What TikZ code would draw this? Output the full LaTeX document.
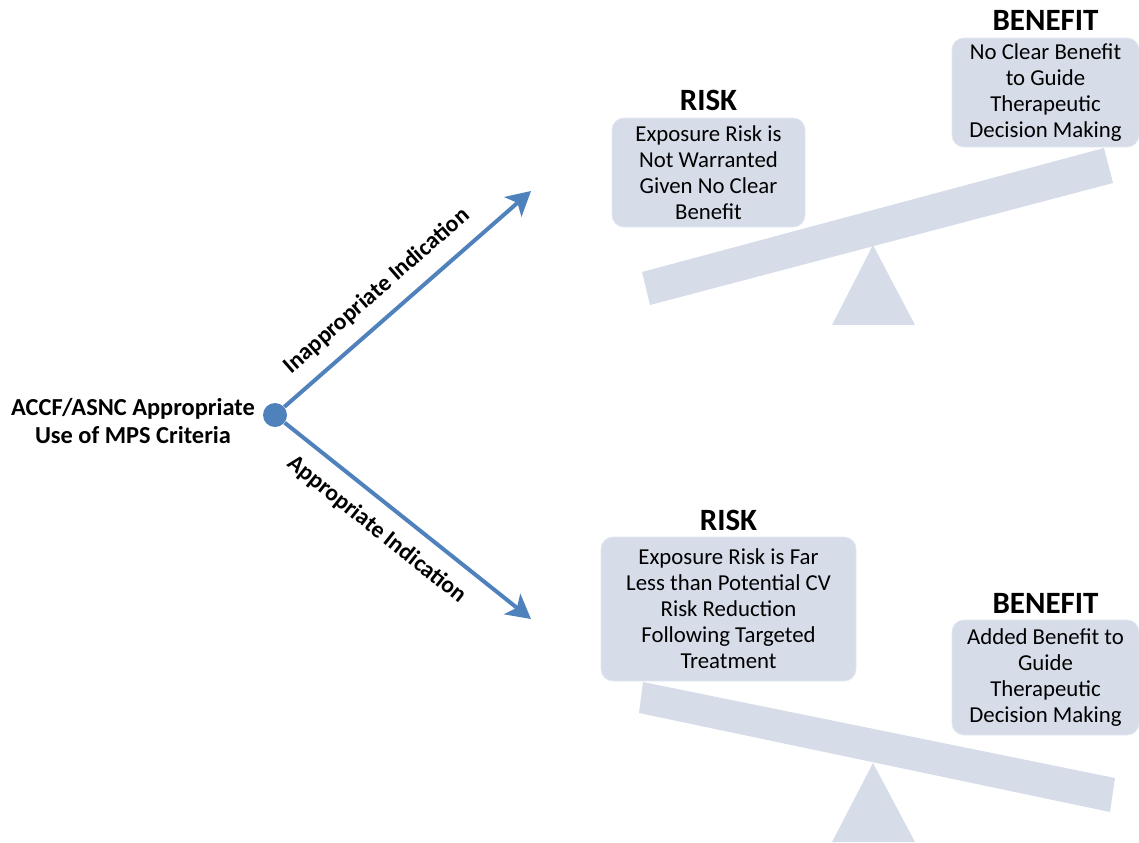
\documentclass[tikz,border=0pt]{standalone}
\usepackage{fontspec}
\setmainfont{Carlito}
\usetikzlibrary{positioning,arrows.meta}
\definecolor{arrowblue}{RGB}{79,129,189}
\definecolor{scalegray}{RGB}{214,221,233}
\tikzset{
  txtbox/.style={fill=scalegray, draw=scalegray!70!white, rounded corners=6pt, align=center, inner sep=0pt, font=\fontsize{11.4}{13}\selectfont},
  heading/.style={font=\bfseries\fontsize{15.5}{17}\selectfont, inner sep=0pt},
  branch/.style={line width=2pt, arrowblue, -{Stealth[length=12pt,width=13pt,inset=3pt]}},
  branchlbl/.style={font=\bfseries\fontsize{11.8}{13}\selectfont, text=black, sloped, inner sep=0pt}
}

\begin{document}
\begin{tikzpicture}[x=0.5pt, y=-0.5pt]
			%%%%% START %%%%%
			\useasboundingbox (0,0) rectangle (1139,842);
			
			% upper scale
			\fill[scalegray] (650,305) -- (642,272) -- (1104,148) -- (1113,183) -- cycle;
			\fill[scalegray] (873,245) -- (915,325) -- (832,325) -- cycle;
			
			% lower scale
			\fill[scalegray] (643,682) -- (1115,778) -- (1110,812) -- (639,713) -- cycle;
			\fill[scalegray] (873,763) -- (915,842) -- (832,842) -- cycle;
			
			\node[txtbox, minimum width=96.5pt, minimum height=54.5pt] (riskA) at (708.5,172.5) {Exposure Risk is\\Not Warranted\\Given No Clear\\Benefit};
			\node[heading, above=3pt of riskA] (riskAhd) {RISK};
			
			\node[txtbox, minimum width=93.5pt, minimum height=54.5pt] (benefitA) at (1045.5,92.5) {No Clear Benefit\\to Guide\\Therapeutic\\Decision Making};
			\node[heading, above=3.5pt of benefitA] (benefitAhd) {BENEFIT};
			
			\node[txtbox, minimum width=127.5pt, minimum height=72pt] (riskB) at (728.5,609) {Exposure Risk is Far\\Less than Potential CV\\Risk Reduction\\Following Targeted\\Treatment};
			\node[heading, above=3pt of riskB] (riskBhd) {RISK};
			
			\node[txtbox, minimum width=93.5pt, minimum height=57.5pt] (benefitB) at (1045.5,677.5) {Added Benefit to\\Guide\\Therapeutic\\Decision Making};
			\node[heading, above=3pt of benefitB] (benefitBhd) {BENEFIT};
			
			% root and branches
			\node[circle, fill=arrowblue, minimum size=12pt, inner sep=0pt] (root) at (275,415) {};
			\node[font=\bfseries\fontsize{12.2}{14}\selectfont, align=center] (criteria) at (133,421) {ACCF/ASNC Appropriate\\Use of MPS Criteria};
			
			\coordinate (upEnd) at (531,191);
			\coordinate (downEnd) at (531,619);
			\draw[branch] (root) -- (upEnd) node[branchlbl, pos=0.445, above=7pt] {Inappropriate Indication};
			\draw[branch] (root) -- (downEnd) node[branchlbl, pos=0.44, below=7pt] {Appropriate Indication};
			
			%%%%% END %%%%%
\end{tikzpicture}
\end{document}
